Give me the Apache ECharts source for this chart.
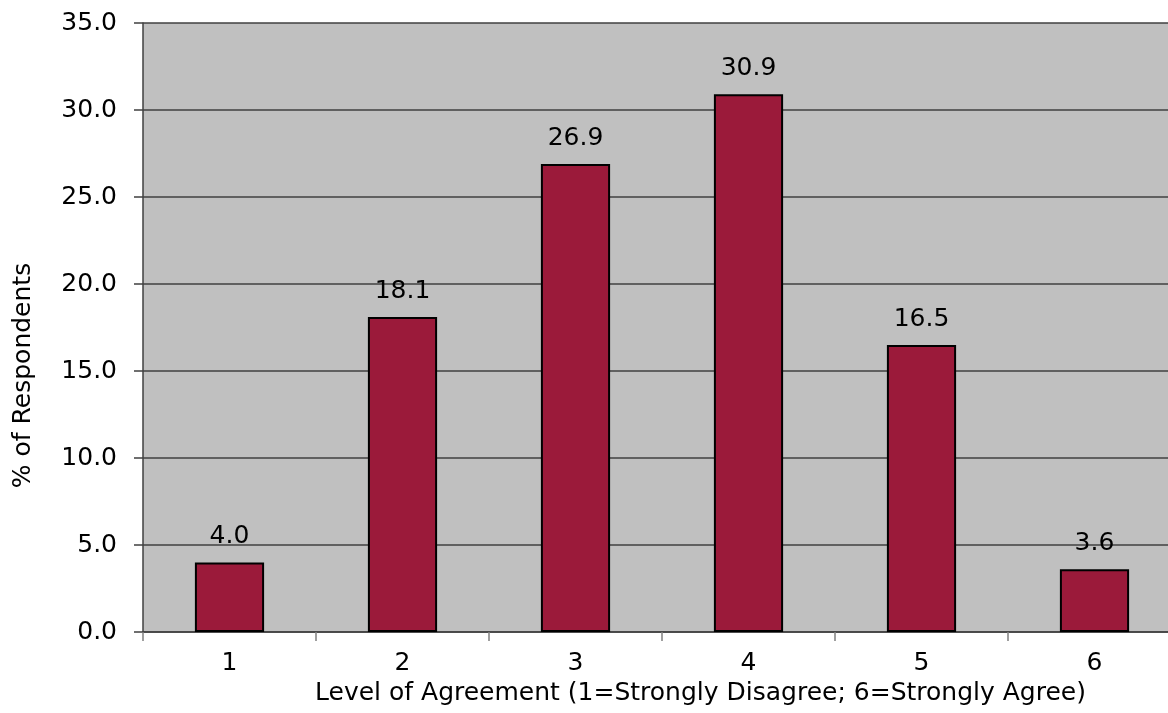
<!DOCTYPE html>
<html>
<head>
<meta charset="utf-8">
<script src="https://cdn.jsdelivr.net/npm/echarts@6/dist/echarts.min.js"></script>
<style>
  html, body { margin: 0; padding: 0; background: #fff; overflow: hidden; }
  /* 绘图区右侧超出画布，容器比窗口宽一点 */
  #chart { width: 1181px; height: 713px; }
</style>
</head>
<body>
<div id="chart"></div>
<script>
// 类别与数值
const categories = ['1', '2', '3', '4', '5', '6']
const percents = [4.0, 18.1, 26.9, 30.9, 16.5, 3.6]
const yTicks = { min: 0, max: 35, interval: 5 }

const font = 'DejaVu Sans'
const fs = 25

const chart = echarts.init(document.getElementById('chart'))

chart.setOption({
  animation: false,
  textStyle: { fontFamily: font },
  grid: {
    left: 143,
    top: 23,
    right: 0,
    bottom: 81,
    show: true,
    backgroundColor: '#c0c0c0',
    borderWidth: 0
  },
  xAxis: {
    type: 'category',
    data: categories,
    name: 'Level of Agreement (1=Strongly Disagree; 6=Strongly Agree)',
    nameLocation: 'middle',
    nameGap: 48,
    nameTextStyle: { fontSize: fs, color: '#000', fontFamily: font, padding: [0, 0, 0, 77] },
    axisLine: { lineStyle: { color: '#404040', width: 1.5 } },
    axisTick: { show: true, length: 9, lineStyle: { color: '#808080', width: 1.5 } },
    axisLabel: { fontSize: fs, color: '#000', margin: 19, fontFamily: font }
  },
  yAxis: {
    type: 'value',
    min: yTicks.min,
    max: yTicks.max,
    interval: yTicks.interval,
    name: '% of Respondents',
    nameLocation: 'middle',
    nameGap: 107,
    nameTextStyle: { fontSize: fs, color: '#000', fontFamily: font, padding: [0, 96, 0, 0] },
    axisLine: { show: true, lineStyle: { color: '#404040', width: 1.5 } },
    axisTick: { show: true, length: 9, lineStyle: { color: '#404040', width: 1.5 } },
    axisLabel: {
      fontSize: fs,
      color: '#000',
      margin: 26,
      fontFamily: font,
      formatter: v => v.toFixed(1)
    },
    splitLine: { show: true, lineStyle: { color: '#404040', width: 1.5 } }
  },
  series: [
    {
      type: 'bar',
      data: percents,
      barWidth: '40%',
      itemStyle: { color: '#9b1a3a', borderColor: '#000', borderWidth: 2 },
      label: {
        show: true,
        position: 'top',
        distance: 13,
        fontSize: fs,
        color: '#000',
        fontFamily: font,
        formatter: p => p.value.toFixed(1)
      }
    }
  ]
})
</script>
</body>
</html>
